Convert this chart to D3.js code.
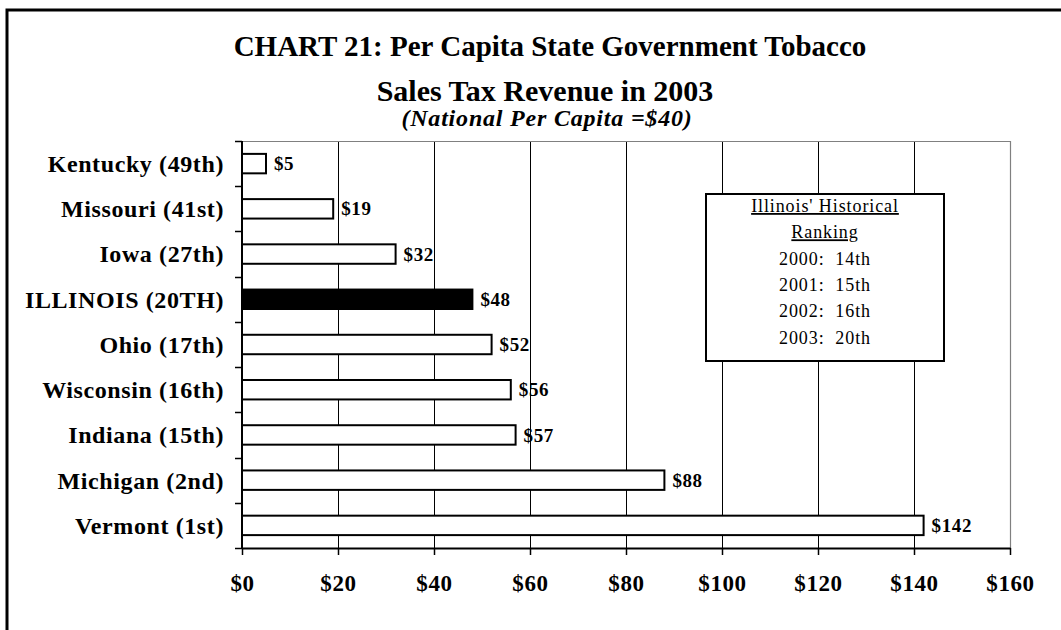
<!DOCTYPE html>
<html>
<head>
<meta charset="utf-8">
<script src="https://cdn.jsdelivr.net/npm/d3@7"></script>
<style>
  html, body { margin: 0; padding: 0; background: #fff; }
  svg { display: block; }
  text { font-family: "Liberation Serif", "Times New Roman", serif; fill: #000; }
</style>
</head>
<body>
<svg id="chart" width="1061" height="630"></svg>
<script>
// Per capita tobacco sales tax revenue, 2003 (dollars)
const states = ["Kentucky (49th)", "Missouri (41st)", "Iowa (27th)", "ILLINOIS (20TH)",
                "Ohio (17th)", "Wisconsin (16th)", "Indiana (15th)", "Michigan (2nd)", "Vermont (1st)"];
const revenue = [5, 19, 32, 48, 52, 56, 57, 88, 142];
const highlight = "ILLINOIS (20TH)";
const xTicks = [0, 20, 40, 60, 80, 100, 120, 140, 160];

const titleLines = ["CHART 21: Per Capita State Government Tobacco", "Sales Tax Revenue in 2003"];
const subtitle = "(National Per Capita =$40)";
const boxLines = ["Illinois' Historical", "Ranking", "2000:\u00a0 14th", "2001:\u00a0 15th", "2002:\u00a0 16th", "2003:\u00a0 20th"];

const svg = d3.select("#chart");

// outer frame
svg.append("rect")
  .attr("x", 7).attr("y", 10).attr("width", 1120).attr("height", 700)
  .attr("fill", "none").attr("stroke", "#000").attr("stroke-width", 3);

const plot = { left: 242, right: 1010, top: 141, bottom: 548 };

const x = d3.scaleLinear().domain([0, 160]).range([plot.left, plot.right]);
const y = d3.scaleBand().domain(states).range([plot.top, plot.bottom])
  .paddingInner(0.57).paddingOuter(0.285);

// titles
svg.append("text").attr("x", 550).attr("y", 56).attr("text-anchor", "middle")
  .attr("font-size", 29).attr("font-weight", "bold").text(titleLines[0]);
svg.append("text").attr("x", 545).attr("y", 101).attr("text-anchor", "middle")
  .attr("font-size", 30).attr("font-weight", "bold").text(titleLines[1]);
svg.append("text").attr("x", 547).attr("y", 126).attr("text-anchor", "middle")
  .attr("font-size", 24).attr("font-weight", "bold").attr("font-style", "italic")
  .attr("letter-spacing", 0.8).text(subtitle);

// vertical gridlines
svg.append("g").selectAll("line").data(xTicks.filter(d => d > 0 && d < 160)).join("line")
  .attr("x1", d => Math.round(x(d)) + 0.5).attr("x2", d => Math.round(x(d)) + 0.5)
  .attr("y1", plot.top).attr("y2", plot.bottom)
  .attr("stroke", "#000").attr("stroke-width", 1);

// plot area border (top and right)
svg.append("path")
  .attr("d", `M${plot.left},${plot.top + 0.5}H${plot.right + 0.5}V${plot.bottom}`)
  .attr("fill", "none").attr("stroke", "#808080").attr("stroke-width", 1.2);

// bars
svg.append("g").selectAll("rect").data(states).join("rect")
  .attr("x", x(0))
  .attr("y", d => y(d))
  .attr("width", (d, i) => x(revenue[i]) - x(0))
  .attr("height", y.bandwidth())
  .attr("fill", d => d === highlight ? "#000" : "#fff")
  .attr("stroke", "#000").attr("stroke-width", 2);

// value labels
svg.append("g").selectAll("text").data(states).join("text")
  .attr("x", (d, i) => x(revenue[i]) + 8)
  .attr("y", d => y(d) + y.bandwidth() / 2)
  .attr("dy", "0.35em")
  .attr("font-size", 19).attr("font-weight", "bold").attr("letter-spacing", 0.6)
  .text((d, i) => "$" + revenue[i]);

// category axis with ticks at band boundaries
const yEdge = d3.scaleLinear().domain([0, states.length]).range([plot.top, plot.bottom]);
const catAxis = svg.append("g");
catAxis.append("line").attr("x1", plot.left).attr("x2", plot.left)
  .attr("y1", plot.top).attr("y2", plot.bottom).attr("stroke", "#000").attr("stroke-width", 2);
catAxis.selectAll("line.tick").data(d3.range(states.length + 1)).join("line")
  .attr("class", "tick")
  .attr("x1", plot.left - 7).attr("x2", plot.left)
  .attr("y1", d => Math.round(yEdge(d)) + 0.5).attr("y2", d => Math.round(yEdge(d)) + 0.5)
  .attr("stroke", "#000").attr("stroke-width", 1.5);
catAxis.selectAll("text").data(states).join("text")
  .attr("x", 224)
  .attr("y", d => y(d) + y.bandwidth() / 2)
  .attr("dy", "0.35em")
  .attr("text-anchor", "end")
  .attr("font-size", 24).attr("font-weight", "bold").attr("letter-spacing", 0.6)
  .text(d => d);

// value axis
const xAxis = svg.append("g").attr("transform", `translate(0,${plot.bottom})`)
  .call(d3.axisBottom(x).tickValues(xTicks).tickFormat(d => "$" + d).tickSize(7).tickSizeOuter(0));
xAxis.select(".domain").attr("stroke", "#000").attr("stroke-width", 2);
xAxis.selectAll(".tick line").attr("stroke", "#000").attr("stroke-width", 1.5);
xAxis.selectAll(".tick text")
  .attr("y", 35).attr("dy", "0.35em")
  .attr("font-family", "'Liberation Serif', 'Times New Roman', serif")
  .attr("font-size", 23).attr("font-weight", "bold").attr("fill", "#000")
  .attr("letter-spacing", 0.6);

// historical ranking box
const box = { x: 706, y: 194, w: 238, h: 167 };
svg.append("rect")
  .attr("x", box.x).attr("y", box.y).attr("width", box.w).attr("height", box.h)
  .attr("fill", "#fff").attr("stroke", "#000").attr("stroke-width", 2);
const bx = box.x + box.w / 2;
svg.append("g").selectAll("text").data(boxLines).join("text")
  .attr("x", bx)
  .attr("y", (d, i) => 212 + i * 26.3)
  .attr("text-anchor", "middle")
  .attr("font-size", 18).attr("letter-spacing", 0.9)
  .attr("text-decoration", (d, i) => i < 2 ? "underline" : null)
  .text(d => d);
</script>
</body>
</html>
